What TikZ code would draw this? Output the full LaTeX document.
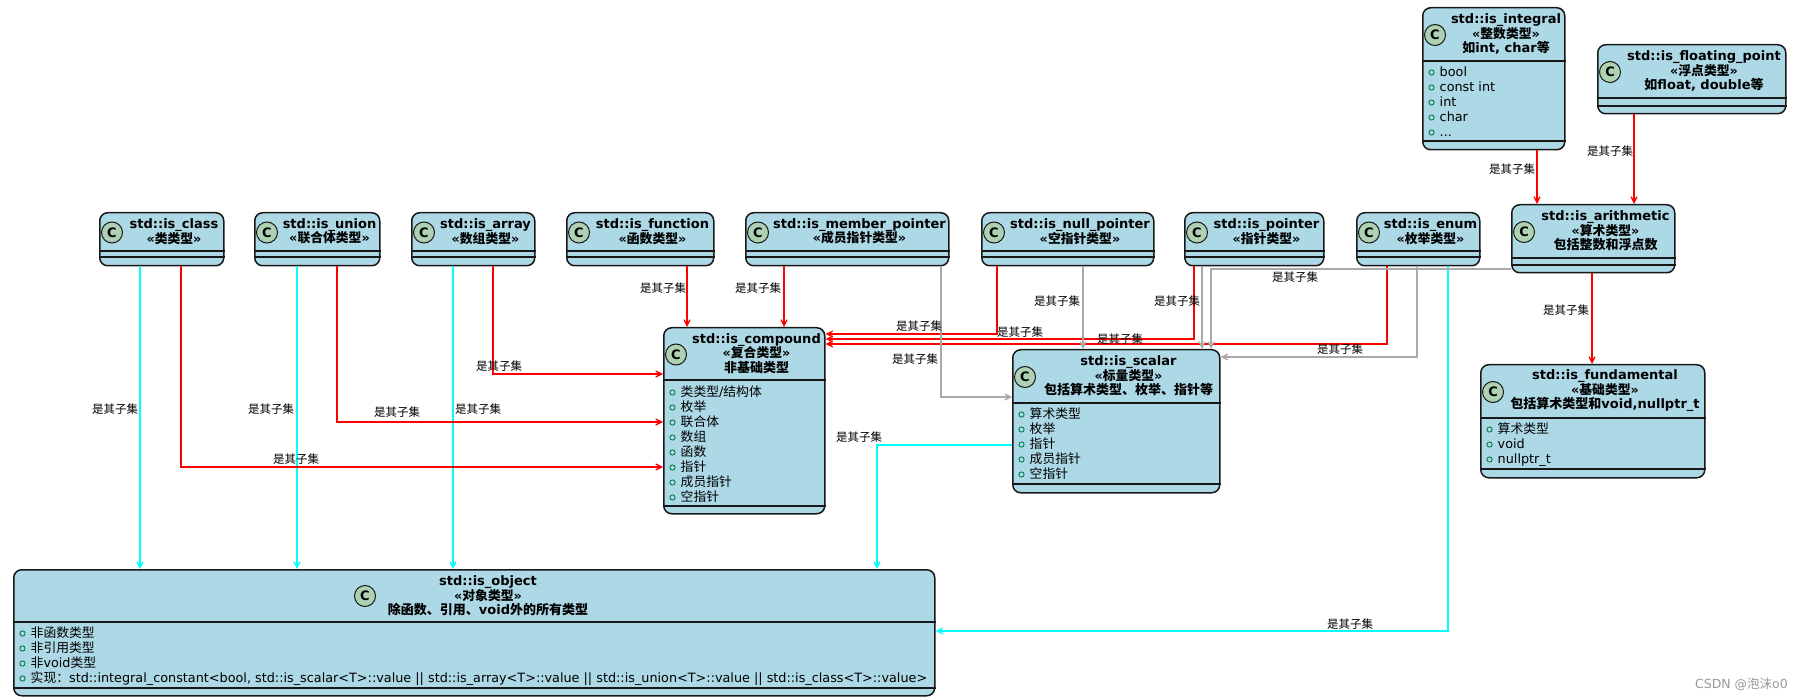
\documentclass[tikz,border=0pt]{standalone}
\usepackage{fontspec}
\setmainfont{DejaVu Sans}
\newfontfamily\cjkfont{Noto Sans CJK SC}
\usetikzlibrary{arrows.meta}
\XeTeXinterchartokenstate=1
\newXeTeXintercharclass\cjkclass
\makeatletter
\count@="3000
\loop \XeTeXcharclass\count@=\cjkclass \advance\count@ by 1 \ifnum\count@<"3040 \repeat
\count@="4E00
\loop \XeTeXcharclass\count@=\cjkclass \advance\count@ by 1 \ifnum\count@<"A000 \repeat
\count@="FF00
\loop \XeTeXcharclass\count@=\cjkclass \advance\count@ by 1 \ifnum\count@<"FFF0 \repeat
\makeatother
\XeTeXinterchartoks 0 \cjkclass = {\cjkfont}
\XeTeXinterchartoks 4095 \cjkclass = {\cjkfont}
\XeTeXinterchartoks \cjkclass 0 = {\rmfamily}
\XeTeXinterchartoks \cjkclass 4095 = {\rmfamily}

\definecolor{boxfill}{HTML}{ADD8E6}
\definecolor{iconfill}{HTML}{ADD1B2}
\definecolor{bord}{HTML}{181818}
\definecolor{visgreen}{HTML}{038048}
\definecolor{grayline}{HTML}{A9A9A9}
\definecolor{cyanline}{HTML}{00FFFF}
\definecolor{redline}{HTML}{FF0000}

\tikzset{
  classbox/.style={draw=bord, fill=boxfill, line width=1.5pt, rounded corners=8pt, inner sep=0pt, rectangle},
  sepline/.style={draw=bord, line width=1.5pt},
  cicon/.style={circle, draw=bord, fill=iconfill, line width=1pt, minimum size=21pt, inner sep=0pt, font=\bfseries\fontsize{13}{13}\selectfont},
  ttl/.style={align=center, inner sep=0pt, font=\bfseries\fontsize{13}{14.5}\selectfont},
  mtext/.style={inner sep=0pt, font=\fontsize{12.8}{15}\selectfont},
  visring/.style={draw=visgreen, line width=0.9pt},
  lbl/.style={inner sep=0pt, font=\fontsize{11.5}{12}\selectfont},
  tipstyle/.style={-{Stealth[length=12pt,width=12pt,inset=8pt]}},
  redarr/.style={draw=redline, line width=2pt, tipstyle},
  cyanarr/.style={draw=cyanline, line width=2pt, tipstyle},
  grayarr/.style={draw=grayline, line width=1.5pt, tipstyle},
}
\newcommand\st[1]{{\fontsize{12.8}{14.5}\selectfont #1}}
\newcommand\umlclass[8]{%
  \node[classbox, minimum width={#4-#2}, minimum height={#7-#3}, anchor=north west] (#1) at (#2,#3) {};
  \draw[sepline] (#1.west |- 0,#5) -- (#1.east |- 0,#5);
  \draw[sepline] (#1.west |- 0,#6) -- (#1.east |- 0,#6);
  \node[cicon] (#1C) at ({#2+13},{(#3+#5)/2+1}) {C};
  \node[ttl] (#1T) at ({(#2+26+#4)/2},{(#3+#5)/2}) {#8};
}
\newcommand\mrow[4]{%
  \draw[visring] ({#2+9.5},{#3+0.5}) circle[radius=2.6pt];
  \node[mtext, anchor=base west] (#1) at ({#2+17.5},{#3+4.5}) {#4};
}

\begin{document}
\begin{tikzpicture}[x=1pt,y=-1pt]
\fill[white] (0,0) rectangle (1801,700);
\useasboundingbox (0,0) rectangle (1801,700);

% ---------- classes ----------
\umlclass{int}{1422}{7}{1564}{61}{141}{149}{std::is\_integral\\ \st{«整数类型»}\\ 如int, char等}
\mrow{intM1}{1422}{72}{bool}
\mrow{intM2}{1422}{87}{const int}
\mrow{intM3}{1422}{102}{int}
\mrow{intM4}{1422}{117}{char}
\mrow{intM5}{1422}{132}{...}

\umlclass{flt}{1597}{44}{1785}{98}{106}{113}{std::is\_floating\_point\\ \st{«浮点类型»}\\ 如float, double等}

\umlclass{ari}{1511}{204}{1674}{258}{265}{272}{std::is\_arithmetic\\ \st{«算术类型»}\\ 包括整数和浮点数}

\umlclass{fnd}{1480}{364}{1704}{418}{469}{477}{std::is\_fundamental\\ \st{«基础类型»}\\ 包括算术类型和void,nullptr\_t}
\mrow{fndM1}{1480}{429}{算术类型}
\mrow{fndM2}{1480}{444}{void}
\mrow{fndM3}{1480}{459}{nullptr\_t}

\umlclass{cls}{99}{212}{223}{251}{257}{265}{std::is\_class\\ \st{«类类型»}}
\umlclass{uni}{254}{212}{379}{251}{257}{265}{std::is\_union\\ \st{«联合体类型»}}
\umlclass{arr}{411}{212}{534}{251}{257}{265}{std::is\_array\\ \st{«数组类型»}}
\umlclass{fun}{566}{212}{713}{251}{257}{265}{std::is\_function\\ \st{«函数类型»}}
\umlclass{mem}{745}{212}{948}{251}{257}{265}{std::is\_member\_pointer\\ \st{«成员指针类型»}}
\umlclass{nul}{981}{212}{1153}{251}{257}{265}{std::is\_null\_pointer\\ \st{«空指针类型»}}
\umlclass{ptr}{1184}{212}{1323}{251}{257}{265}{std::is\_pointer\\ \st{«指针类型»}}
\umlclass{enm}{1356}{212}{1479}{251}{257}{265}{std::is\_enum\\ \st{«枚举类型»}}

\umlclass{cmp}{663}{327}{824}{380}{506}{513}{std::is\_compound\\ \st{«复合类型»}\\ 非基础类型}
\mrow{cmpM1}{663}{392}{类类型/结构体}
\mrow{cmpM2}{663}{407}{枚举}
\mrow{cmpM3}{663}{422}{联合体}
\mrow{cmpM4}{663}{437}{数组}
\mrow{cmpM5}{663}{452}{函数}
\mrow{cmpM6}{663}{467}{指针}
\mrow{cmpM7}{663}{482}{成员指针}
\mrow{cmpM8}{663}{497}{空指针}

\umlclass{scl}{1012}{349}{1219}{403}{484}{492}{std::is\_scalar\\ \st{«标量类型»}\\ 包括算术类型、枚举、指针等}
\mrow{sclM1}{1012}{414}{算术类型}
\mrow{sclM2}{1012}{429}{枚举}
\mrow{sclM3}{1012}{444}{指针}
\mrow{sclM4}{1012}{459}{成员指针}
\mrow{sclM5}{1012}{474}{空指针}

% is_object (content centred in the wide box)
\node[classbox, minimum width=921, minimum height=126, anchor=north west] (obj) at (13,569) {};
\draw[sepline] (obj.west |- 0,622) -- (obj.east |- 0,622);
\draw[sepline] (obj.west |- 0,688) -- (obj.east |- 0,688);
\node[cicon] (objC) at (365,596) {C};
\node[ttl] (objT) at (488,596) {std::is\_object\\ \st{«对象类型»}\\ 除函数、引用、void外的所有类型};
\mrow{objM1}{13}{633}{非函数类型}
\mrow{objM2}{13}{648}{非引用类型}
\mrow{objM3}{13}{663}{非void类型}
\mrow{objM4}{13}{678}{实现：std::integral\_constant<bool, std::is\_scalar<T>::value || std::is\_array<T>::value || std::is\_union<T>::value || std::is\_class<T>::value>}

% ---------- connectors: to is_object (cyan) ----------
\draw[cyanarr] (140,0 |- cls.south) -- (140,0 |- obj.north);
\draw[cyanarr] (297,0 |- uni.south) -- (297,0 |- obj.north);
\draw[cyanarr] (453,0 |- arr.south) -- (453,0 |- obj.north);
\draw[cyanarr] (scl.west |- 0,445) -| (877,0 |- obj.north);
\draw[cyanarr] (1448,0 |- enm.south) |- (obj.east |- 0,631);

% ---------- connectors: to is_compound (red) ----------
\draw[redarr] (181,0 |- cls.south) |- (cmp.west |- 0,467);
\draw[redarr] (337,0 |- uni.south) |- (cmp.west |- 0,422);
\draw[redarr] (493,0 |- arr.south) |- (cmp.west |- 0,374);
\draw[redarr] (687,0 |- fun.south) -- (687,0 |- cmp.north);
\draw[redarr] (784,0 |- mem.south) -- (784,0 |- cmp.north);
\draw[redarr] (997,0 |- nul.south) |- (cmp.east |- 0,334);
\draw[redarr] (1194,0 |- ptr.south) |- (cmp.east |- 0,339);
\draw[redarr] (1387,0 |- enm.south) |- (cmp.east |- 0,344);

% ---------- connectors: arithmetic / fundamental (red) ----------
\draw[redarr] (1537,0 |- int.south) -- (1537,0 |- ari.north);
\draw[redarr] (1634,0 |- flt.south) -- (1634,0 |- ari.north);
\draw[redarr] (1592,0 |- ari.south) -- (1592,0 |- fnd.north);

% ---------- connectors: to is_scalar (gray) ----------
\draw[grayarr] (941,0 |- mem.south) |- (scl.west |- 0,397);
\draw[grayarr] (1083,0 |- nul.south) -- (1083,0 |- scl.north);
\draw[grayarr] (1202,0 |- ptr.south) -- (1202,0 |- scl.north);
\draw[grayarr] (ari.west |- 0,269) -| (1211,0 |- scl.north);
\draw[grayarr] (1417,0 |- enm.south) |- (scl.east |- 0,357);

% ---------- labels ----------
\node[lbl] (L1) at (1512,169) {是其子集};
\node[lbl] (L2) at (1610,151) {是其子集};
\node[lbl] (L3) at (1566,310) {是其子集};
\node[lbl] (L4) at (663,288) {是其子集};
\node[lbl] (L5) at (758,288) {是其子集};
\node[lbl] (L6) at (1057,301) {是其子集};
\node[lbl] (L7) at (1177,301) {是其子集};
\node[lbl] (L8) at (1295,277) {是其子集};
\node[lbl] (L9) at (919,326) {是其子集};
\node[lbl] (L10) at (1020,332) {是其子集};
\node[lbl] (L11) at (1120,339) {是其子集};
\node[lbl] (L12) at (915,359) {是其子集};
\node[lbl] (L13) at (1340,349) {是其子集};
\node[lbl] (L14) at (115,409) {是其子集};
\node[lbl] (L15) at (271,409) {是其子集};
\node[lbl] (L16) at (478,409) {是其子集};
\node[lbl] (L17) at (397,412) {是其子集};
\node[lbl] (L18) at (499,366) {是其子集};
\node[lbl] (L19) at (296,459) {是其子集};
\node[lbl] (L20) at (859,437) {是其子集};
\node[lbl] (L21) at (1350,624) {是其子集};

\node[inner sep=0pt, anchor=east, text=black!40, font=\fontsize{12.5}{13}\selectfont] (wm) at (1788,684) {CSDN @泡沫o0};
\end{tikzpicture}
\end{document}
